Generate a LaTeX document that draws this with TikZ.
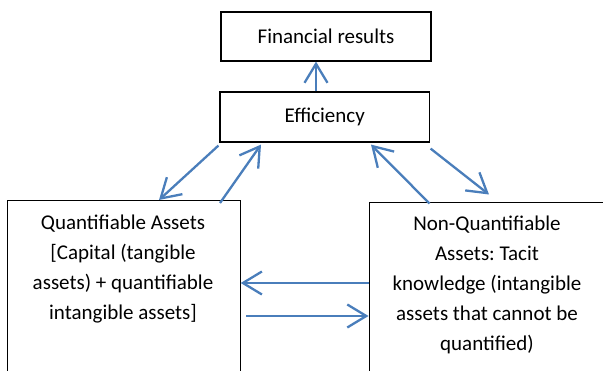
\documentclass[tikz,border=0pt]{standalone}
\usepackage{fontspec}
\setmainfont{Carlito}
\frenchspacing
\usetikzlibrary{arrows.meta,calc}
\definecolor{linkblue}{RGB}{74,126,187}
\begin{document}
\begin{tikzpicture}[x=1pt,y=-1pt,
  box/.style={draw=black,line width=1.2pt,rectangle,inner sep=0pt},
  txt/.style={font=\fontsize{21}{30}\selectfont,align=center,inner sep=0pt},
  link/.style={draw=linkblue,line width=2.3pt,
    -{Straight Barb[length=19pt,width=23pt,line width=2.3pt]}}]
\useasboundingbox (0,0) rectangle (603,371);

% top boxes
\node[box,txt,minimum width=210pt,minimum height=49pt] (fin) at (326,36.5) {Financial results};
\node[box,txt,minimum width=209.5pt,minimum height=50pt] (eff) at (324.75,117) {Efficiency};

% asset boxes, running past the lower and right edges
\node[box,minimum width=233pt,minimum height=230pt,anchor=north west] (qa) at (6.5,200) {};
\node[box,minimum width=280pt,minimum height=230pt,anchor=north west] (nqa) at (368.5,202) {};

\node[txt,anchor=north] (qatext) at (123,215)
  {Quantifiable Assets\\{[}Capital (tangible\\assets) + quantifiable\\intangible assets{]}};
\node[txt,anchor=north] (nqatext) at (487,216)
  {Non-Quantifiable\\Assets: Tacit\\knowledge (intangible\\assets that cannot be\\quantified)};

% connectors
\draw[link] ([xshift=-8.75pt]eff.north) -- ([xshift=-10pt]fin.south);
\draw[link] ([shift={(-1pt,-3pt)}]eff.south west) -- ([xshift=152.5pt]qa.north west);
\draw[link] ([xshift=213.5pt,yshift=-3pt]qa.north west) -- ([xshift=-63.75pt,yshift=-2pt]eff.south);
\draw[link] ([xshift=61pt,yshift=-1.5pt]nqa.north west) -- ([xshift=46.25pt,yshift=-2pt]eff.south);
\draw[link] ([shift={(0.5pt,-6pt)}]eff.south east) -- ([xshift=120.5pt,yshift=7.5pt]nqa.north west);
\draw[link] ([yshift=-81pt]nqa.north west) -- ([yshift=-83pt]qa.north east);
\draw[link] ([shift={(5.5pt,-116pt)}]qa.north east) -- ([yshift=-114pt]nqa.north west);
\end{tikzpicture}
\end{document}
